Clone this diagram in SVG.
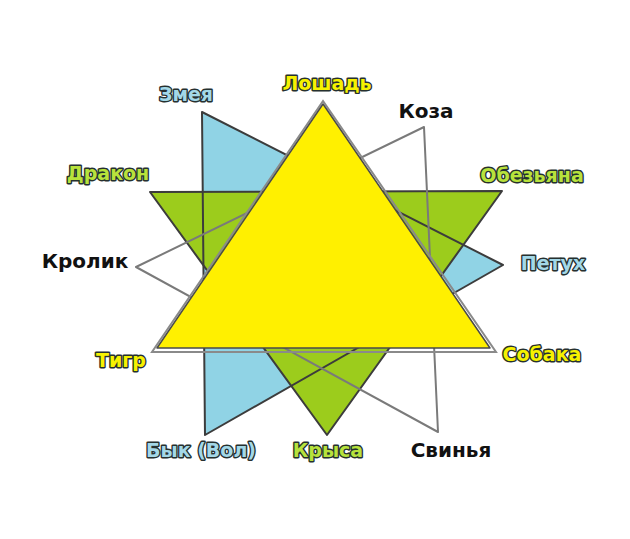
<svg xmlns="http://www.w3.org/2000/svg" width="630" height="539" viewBox="0 0 630 539">
<style>
.lbl{font-family:"DejaVu Sans","Open Sans",sans-serif;font-weight:bold;font-size:19px;text-anchor:middle}
.out{stroke:#26302f;stroke-width:2.8px;paint-order:stroke fill;stroke-linejoin:round}
.blue{fill:#a3d8e8}
.green{fill:#b8e23c}
.yellow{fill:#f6f200}
.black{fill:#111;font-size:20px}
.edge{fill:none;stroke:#3c3c3c;stroke-width:2;stroke-linejoin:round}
.gedge{fill:none;stroke:#7a7a7a;stroke-width:2;stroke-linejoin:round}
</style>
<rect width="630" height="539" fill="#ffffff"/>
<g id="fills">
<polygon points="202,112 503,265 205,435" fill="#90d3e5"/>
<polygon points="150,192 502,191 327,435" fill="#9ccc1c"/>
</g>
<g id="connectors">
<polygon points="202,112 503,265 205,435" class="edge"/>
<polygon points="150,192 502,191 327,435" class="edge"/>
<polygon points="424,127 136,267 438,432" class="gedge"/>
</g>
<g id="horse-triangle">
<polygon points="323,101 152,352 496,352" fill="none" stroke="#8a8a8a" stroke-width="2"/>
<polygon points="323,104 157,348 490,348" fill="#fff000" stroke="#4a4a4a" stroke-width="1.5" stroke-linejoin="round"/>
</g>
<g id="zmeya"><text class="lbl out blue" x="186" y="101">Змея</text></g>
<g id="loshad"><text class="lbl out yellow" x="327" y="90">Лошадь</text></g>
<g id="koza"><text class="lbl black" x="426" y="118">Коза</text></g>
<g id="drakon"><text class="lbl out green" x="108" y="180">Дракон</text></g>
<g id="obezyana"><text class="lbl out green" x="532" y="182">Обезьяна</text></g>
<g id="krolik"><text class="lbl black" x="85" y="268">Кролик</text></g>
<g id="petukh"><text class="lbl out blue" x="553" y="270">Петух</text></g>
<g id="tigr"><text class="lbl out yellow" x="121" y="367">Тигр</text></g>
<g id="sobaka"><text class="lbl out yellow" x="542" y="361">Собака</text></g>
<g id="byk"><text class="lbl out blue" x="201" y="457">Бык (Вол)</text></g>
<g id="krysa"><text class="lbl out green" x="328" y="457">Крыса</text></g>
<g id="svinya"><text class="lbl black" x="451" y="457">Свинья</text></g>
</svg>
